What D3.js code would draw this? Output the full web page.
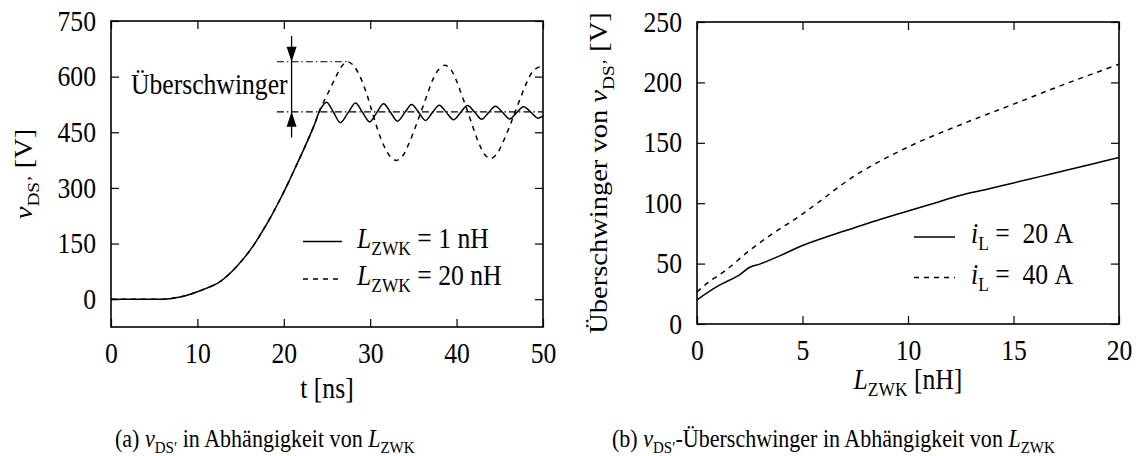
<!DOCTYPE html>
<html><head><meta charset="utf-8">
<script src="https://cdn.jsdelivr.net/npm/d3@7"></script>
<style>
body{margin:0;background:#fff}
svg text{font-family:"Liberation Serif","Times New Roman",serif;fill:#000}
</style></head><body>
<svg id="fig" width="1146" height="456"></svg>
<script>
// ---- panel (a): v_DS' over time for two commutation-loop inductances ----
const timeTicks = [0, 10, 20, 30, 40, 50];
const voltTicks = [0, 150, 300, 450, 600, 750];

// L_ZWK = 1 nH
const t1 = [0, 2, 4, 6, 7, 8, 9, 10, 11, 12, 12.6, 13.5, 14.5, 15.5, 16.5, 17.5, 18.5, 19.5, 20.5, 21.5, 22.5, 23.5, 24.2,
  24.95, 25.75, 26.55, 27.45, 28.3, 29.1, 29.95, 30.75, 31.55, 32.35, 33.15, 34.0, 34.8, 35.6, 36.4, 37.2, 38.0, 38.8,
  39.65, 40.45, 41.25, 42.1, 42.9, 43.7, 44.5, 45.3, 46.15, 46.95, 47.75, 48.6, 49.4, 50];
const v1 = [0, 0, 0, 0, 2, 6, 12, 20, 29, 39, 47, 64, 87, 114, 145, 182, 222, 266, 313, 363, 414, 468, 510,
  531, 504, 476, 503, 529, 504, 478, 503, 527, 504, 480, 503, 525, 504, 482, 503, 523, 504,
  484, 503, 522, 504, 485, 503, 520, 504, 486, 503, 519, 504, 488, 494];

// L_ZWK = 20 nH
const t20 = [0, 2, 4, 6, 7, 8, 9, 10, 11, 12, 12.6, 13.5, 14.5, 15.5, 16.5, 17.5, 18.5, 19.5, 20.5, 21.5, 22.5, 23.5, 24.2,
  25.0, 26.0, 26.7, 27.3, 28.0, 28.75, 29.5, 30.2, 30.9, 31.6, 32.3, 33.05, 33.75, 34.45, 35.15, 35.85, 36.55, 37.25,
  37.95, 38.65, 39.3, 39.95, 40.6, 41.3, 41.95, 42.6, 43.25, 43.9, 44.6, 45.3, 46.05, 46.75, 47.45, 48.15, 48.85, 49.6, 50];
const v20 = [0, 0, 0, 0, 2, 6, 12, 20, 29, 39, 47, 64, 87, 114, 145, 182, 222, 266, 313, 363, 414, 468, 512,
  550, 598, 628, 640, 632, 604, 560, 507, 455, 413, 385, 374, 386, 418, 459, 503, 548, 592,
  620, 631, 620, 591, 550, 505, 460, 419, 390, 379, 390, 420, 461, 503, 546, 586, 615, 626, 622];

// overshoot annotation (V, ns)
const peakLevel = 640, steadyLevel = 505;
const markTime = 20.9, guideStart = 19.2, peakTime = 27.4;
const markTop = 710, markBottom = 436;

// ---- panel (b): overshoot vs. L_ZWK for two load currents ----
const indTicks = [0, 5, 10, 15, 20];
const ovTicks = [0, 50, 100, 150, 200, 250];
const L20A = [0, 1, 2, 2.5, 3, 4, 5, 6.3, 7.4, 8.7, 10, 11.2, 12.5, 13.75, 15, 16.25, 17.5, 18.75, 20];
const ov20A = [20, 31.5, 40.5, 47, 49.8, 57, 65, 73, 79.3, 86.7, 93.5, 99.8, 106.5, 111.5, 116.8, 122, 127.2, 132.5, 137.8];
const L40A = [0, 0.5, 1.4, 2.5, 3.6, 4.7, 5.7, 7.5, 10, 12.5, 15, 17.5, 20];
const ov40A = [26.5, 34, 45, 61, 75, 87.5, 100, 123, 146.5, 165, 182, 199, 215];

const FS = 28.5, SX = 0.9, SUB = 0.68, CAP = 24.5;
const NB = "\u00a0";
const svg = d3.select("#fig");

// text with italic / subscript runs, narrowed horizontally around its anchor
function rich(parent, x, y, runs, opt = {}) {
  const size = opt.size || FS;
  const rot = opt.rotate ? " rotate(-90)" : "";
  const t = parent.append("text")
    .attr("transform", `translate(${x},${y}) scale(${SX},1)${rot}`)
    .attr("font-size", size)
    .attr("text-anchor", opt.anchor || "start");
  let shift = 0;
  runs.forEach(r => {
    const s = t.append("tspan").text(r.t);
    if (r.i) s.attr("font-style", "italic");
    const want = r.sub ? size * 0.26 : 0;
    if (want !== shift) { s.attr("dy", want - shift); shift = want; }
    if (r.sub) s.attr("font-size", size * SUB);
  });
  return t;
}

function panel(x, y, xt, yt, id) {
  const [x0, x1] = x.range(), [y0, y1] = y.range();
  const g = svg.append("g");
  const tick = 8;
  const style = sel => {
    sel.select(".domain").remove();
    sel.selectAll(".tick line").attr("stroke", "#000").attr("stroke-width", 1.2);
    sel.selectAll(".tick text").attr("font-size", FS).attr("fill", "#000")
      .attr("font-family", '"Liberation Serif","Times New Roman",serif')
      .attr("transform", `scale(${SX},1)`);
  };
  g.append("g").attr("transform", `translate(0,${y0})`)
    .call(d3.axisBottom(x).tickValues(xt).tickSizeInner(-tick).tickSizeOuter(0).tickPadding(16)).call(style);
  g.append("g").attr("transform", `translate(0,${y1})`)
    .call(d3.axisTop(x).tickValues(xt).tickSizeInner(-tick).tickSizeOuter(0).tickFormat(() => "")).call(style);
  g.append("g").attr("transform", `translate(${x0},0)`)
    .call(d3.axisLeft(y).tickValues(yt).tickSizeInner(-tick).tickSizeOuter(0).tickPadding(15 / SX)).call(style);
  g.append("g").attr("transform", `translate(${x1},0)`)
    .call(d3.axisRight(y).tickValues(yt).tickSizeInner(-tick).tickSizeOuter(0).tickFormat(() => "")).call(style);
  svg.append("clipPath").attr("id", id).append("rect")
    .attr("x", x0).attr("y", y1).attr("width", x1 - x0).attr("height", y0 - y1);
  g.append("rect").attr("x", x0).attr("y", y1).attr("width", x1 - x0).attr("height", y0 - y1)
    .attr("fill", "none").attr("stroke", "#000").attr("stroke-width", 1.6);
  return g;
}

function curve(g, x, y, xs, ys, dash, clip) {
  const line = d3.line().x(d => x(d[0])).y(d => y(d[1])).curve(d3.curveCatmullRom.alpha(0.5));
  g.append("path").datum(xs.map((v, i) => [v, ys[i]]))
    .attr("d", line).attr("fill", "none").attr("stroke", "#000").attr("stroke-width", 1.5)
    .attr("stroke-dasharray", dash).attr("clip-path", `url(#${clip})`);
}

function legendRow(g, x0, x1, y, dash, tx, runs) {
  g.append("line").attr("x1", x0).attr("x2", x1).attr("y1", y).attr("y2", y)
    .attr("stroke", "#000").attr("stroke-width", 1.5).attr("stroke-dasharray", dash);
  rich(g, tx, y + 6, runs);
}

// ---------- panel (a) ----------
const xa = d3.scaleLinear().domain([0, 50]).range([111, 543]);
const ya = d3.scaleLinear().domain([-75, 750]).range([327, 21]);
const ga = panel(xa, ya, timeTicks, voltTicks, "clipA");
curve(ga, xa, ya, t20, v20, "5,5", "clipA");
curve(ga, xa, ya, t1, v1, null, "clipA");

// overshoot marker
const dd = "7,3,1.5,3";
ga.append("line").attr("x1", xa(guideStart)).attr("x2", xa(peakTime)).attr("y1", ya(peakLevel)).attr("y2", ya(peakLevel))
  .attr("stroke", "#000").attr("stroke-width", 1.1).attr("stroke-dasharray", dd);
ga.append("line").attr("x1", xa(guideStart)).attr("x2", xa(50)).attr("y1", ya(steadyLevel)).attr("y2", ya(steadyLevel))
  .attr("stroke", "#000").attr("stroke-width", 1.1).attr("stroke-dasharray", dd);
const mx = xa(markTime);
ga.append("line").attr("x1", mx).attr("x2", mx).attr("y1", ya(markTop)).attr("y2", ya(markBottom))
  .attr("stroke", "#000").attr("stroke-width", 1.3);
const ah = 15, aw = 5;
const tipTop = ya(peakLevel), tipBot = ya(steadyLevel);
ga.append("path").attr("d", `M${mx},${tipTop} L${mx - aw},${tipTop - ah} L${mx + aw},${tipTop - ah} Z`).attr("fill", "#000");
ga.append("path").attr("d", `M${mx},${tipBot} L${mx - aw},${tipBot + ah} L${mx + aw},${tipBot + ah} Z`).attr("fill", "#000");
rich(ga, mx - 4, 94, [{ t: "Überschwinger" }], { anchor: "end" });

// legend (a)
legendRow(ga, 303, 342, 241.5, null, 357, [{ t: "L", i: true }, { t: "ZWK", sub: true }, { t: " = 1 nH" }]);
legendRow(ga, 303, 342, 279, "5,5", 357, [{ t: "L", i: true }, { t: "ZWK", sub: true }, { t: " = 20 nH" }]);

// axis titles (a)
rich(svg, 327, 398, [{ t: "t [ns]" }], { anchor: "middle" });
rich(svg, 32, 174, [{ t: "v", i: true }, { t: "DS’", sub: true }, { t: " [V]" }], { anchor: "middle", rotate: true });

// ---------- panel (b) ----------
const xb = d3.scaleLinear().domain([0, 20]).range([697, 1119]);
const yb = d3.scaleLinear().domain([0, 250]).range([324, 22]);
const gb = panel(xb, yb, indTicks, ovTicks, "clipB");
curve(gb, xb, yb, L40A, ov40A, "5,5", "clipB");
curve(gb, xb, yb, L20A, ov20A, null, "clipB");

legendRow(gb, 914, 955, 237, null, 971, [{ t: "i", i: true }, { t: "L", sub: true }, { t: NB + "=" + NB + NB + "20" + NB + "A" }]);
legendRow(gb, 914, 955, 277.5, "5,5", 971, [{ t: "i", i: true }, { t: "L", sub: true }, { t: NB + "=" + NB + NB + "40" + NB + "A" }]);

rich(svg, 908, 389, [{ t: "L", i: true }, { t: "ZWK", sub: true }, { t: " [nH]" }], { anchor: "middle" });
rich(svg, 607, 173, [{ t: "Überschwinger von " }, { t: "v", i: true }, { t: "DS’", sub: true }, { t: " [V]" }], { anchor: "middle", rotate: true });

// ---------- captions ----------
rich(svg, 115, 447, [{ t: "(a) " }, { t: "v", i: true }, { t: "DS′", sub: true }, { t: " in Abhängigkeit von " },
  { t: "L", i: true }, { t: "ZWK", sub: true }], { size: CAP });
rich(svg, 612, 447, [{ t: "(b) " }, { t: "v", i: true }, { t: "DS′", sub: true }, { t: "-Überschwinger in Abhängigkeit von " },
  { t: "L", i: true }, { t: "ZWK", sub: true }], { size: CAP });
</script>
</body></html>
